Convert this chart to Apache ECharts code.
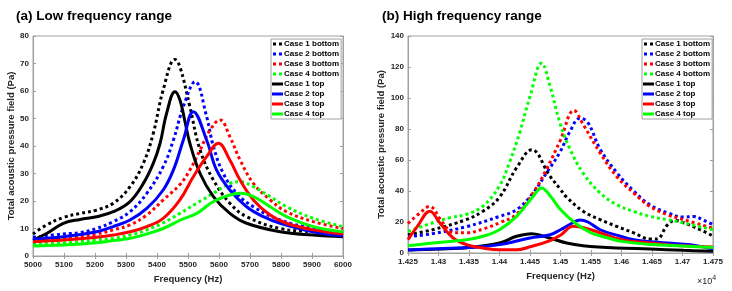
<!DOCTYPE html>
<html>
<head>
<meta charset="utf-8">
<script src="https://cdn.jsdelivr.net/npm/echarts@6/dist/echarts.min.js"></script>
<style>
html, body { margin: 0; padding: 0; background: #fff; }
#main { width: 732px; height: 291px; }
</style>
</head>
<body>
<div id="main"></div>
<script>
// series names (shared by both panels)
var names = ['Case 1 bottom', 'Case 2 bottom', 'Case 3 bottom', 'Case 4 bottom',
	'Case 1 top', 'Case 2 top', 'Case 3 top', 'Case 4 top'];

// (a) low frequency range, [Hz, Pa]
var low1b = [[5000,8],[5044,11.3],[5098,14],[5152,15.5],[5205,16.7],[5259,19.2],[5313,25.2],[5356,33.7],[5388,44.6],[5420,60.4],[5458,71.5],[5474,68.8],[5506,54.3],[5539,38.5],[5582,27.6],[5635,19.2],[5689,14.3],[5797,10],[5904,8.8],[6000,8]];
var low2b = [[5000,6.8],[5098,8],[5152,8.5],[5205,10],[5259,12.5],[5313,16.1],[5367,22.8],[5420,32.5],[5453,42.2],[5485,54.3],[5523,63.4],[5560,50.7],[5582,39.8],[5614,30],[5657,22.8],[5711,17.9],[5797,13.1],[5904,10],[6000,8.5]];
var low3b = [[5000,5.6],[5098,6.4],[5205,8],[5259,9.5],[5313,11.3],[5367,14.9],[5420,20.4],[5474,26],[5506,31.3],[5539,38.5],[5571,45.8],[5603,49.5],[5635,43.4],[5668,34.9],[5711,26.4],[5765,20.4],[5818,16.1],[5904,12.5],[6000,10]];
var low4b = [[5000,4.4],[5098,4.8],[5205,5.8],[5259,6.4],[5313,7.6],[5367,9.5],[5420,12.1],[5474,15.5],[5528,19.2],[5582,22.8],[5635,26.4],[5668,27],[5711,25.2],[5765,21.6],[5818,17.9],[5904,13.7],[6000,10.7]];
var low1t = [[5000,5.8],[5044,8.2],[5098,11.9],[5152,13.3],[5205,14.3],[5259,16.1],[5313,19.8],[5356,26.4],[5388,33.7],[5410,41],[5431,51.9],[5458,59.7],[5474,56.7],[5490,49],[5506,41],[5539,30],[5582,21.6],[5635,15.5],[5689,11.9],[5797,8.8],[5904,7.6],[6000,7]];
var low2t = [[5000,6.1],[5098,7],[5205,8.8],[5259,10.7],[5313,13.1],[5367,17.3],[5420,24],[5453,31.3],[5485,42.2],[5517,52.5],[5560,42.2],[5592,31.3],[5635,24],[5689,17.9],[5743,14.3],[5797,11.9],[5904,8.8],[6000,7.3]];
var low3t = [[5000,5.2],[5098,5.8],[5205,6.8],[5259,7.6],[5313,8.8],[5367,10.7],[5420,13.7],[5474,20.4],[5517,28.8],[5560,36.1],[5598,41],[5635,34.9],[5668,27.6],[5711,20.4],[5765,14.9],[5818,11.9],[5904,9.5],[6000,8]];
var low4t = [[5000,3.6],[5098,4],[5205,4.8],[5259,5.6],[5313,6.4],[5367,8],[5420,10],[5474,13],[5528,15.5],[5582,19.8],[5635,22.2],[5668,22.8],[5711,21.6],[5765,17.9],[5818,14.3],[5904,10.7],[6000,8.8]];

// (b) high frequency range, [Hz, Pa]
var high1b = [[14250,11.8],[14290,15],[14345,21.5],[14373,27],[14400,36],[14428,55],[14453,66.6],[14482,50],[14500,41],[14510,36],[14537,27],[14565,21.5],[14592,17.2],[14620,13],[14647,9],[14658,9],[14675,18],[14688,21],[14702,19.5],[14729,15],[14750,11]];
var high2b = [[14250,10.5],[14290,12.5],[14346,17],[14400,23.6],[14428,28],[14455,38.7],[14477,51.6],[14499,65],[14515,78],[14532,87],[14545,84],[14565,67],[14592,52],[14620,40],[14647,31],[14675,26],[14702,23.2],[14718,23.6],[14735,21],[14750,18.3]];
var high3b = [[14250,19],[14270,26],[14285,30],[14307,19.5],[14325,13],[14346,13],[14373,15.5],[14400,19.5],[14428,25],[14455,38.7],[14477,54],[14500,73],[14522,92],[14537,83],[14565,64.5],[14592,49.4],[14620,38.7],[14647,30],[14675,24.7],[14702,21.5],[14750,16]];
var high4b = [[14250,14],[14291,19.5],[14319,22.8],[14346,25],[14373,30.3],[14400,43.3],[14416,58],[14433,77.6],[14450,101],[14469,122.5],[14483,107.5],[14499,84],[14516,66.6],[14537,51.6],[14565,38.7],[14592,31.2],[14620,26.8],[14647,23.6],[14675,21.5],[14702,19.4],[14750,15]];
var high1t = [[14250,2],[14300,2.5],[14350,3.5],[14400,6.4],[14428,10.8],[14453,12.5],[14482,9.7],[14510,6.4],[14537,4.7],[14592,3.2],[14647,2.6],[14702,1.7],[14750,1.1]];
var high2t = [[14250,2],[14300,2.8],[14350,3.5],[14400,5.4],[14450,9.7],[14483,11.8],[14500,15],[14520,19.5],[14532,21.3],[14545,20],[14565,15],[14592,11.5],[14620,8.6],[14675,6.4],[14713,5.4],[14750,2.5]];
var high3t = [[14250,8.6],[14265,17],[14286,27],[14302,19.5],[14324,9.7],[14346,5.4],[14373,3.2],[14400,2.1],[14428,2.1],[14450,4],[14483,8],[14500,11.5],[14521,17.2],[14550,15],[14600,8.6],[14650,6.4],[14700,4.7],[14750,3.9]];
var high4t = [[14250,4.7],[14291,6.5],[14346,8.6],[14373,10.8],[14400,15],[14428,23.6],[14455,36.5],[14469,42],[14483,37],[14500,28],[14525,19],[14550,13],[14575,10],[14600,7.5],[14650,5.5],[14700,4.5],[14750,3.5]];

var lowData = [low1b, low2b, low3b, low4b, low1t, low2t, low3t, low4t];
var highData = [high1b, high2b, high3b, high4b, high1t, high2t, high3t, high4t];
var colors = ['#000000', '#0000ff', '#ff0000', '#00ff00', '#000000', '#0000ff', '#ff0000', '#00ff00'];

var FONT = 'Liberation Sans, Arial, sans-serif';
var axisGrey = '#a0a0a0';

function mkX(grid, min, max, step, top, gap, fmt) {
	return {
		type: 'value', gridIndex: grid, min: min, max: max, interval: step,
		position: top ? 'top' : 'bottom',
		name: top ? '' : 'Frequency (Hz)',
		nameLocation: 'middle', nameGap: gap,
		nameTextStyle: { color: '#262626', fontFamily: FONT, fontWeight: 'bold', fontSize: 9.5 },
		axisLine: { show: true, lineStyle: { color: axisGrey, width: 1 } },
		axisTick: { show: true, inside: true, length: 3, lineStyle: { color: axisGrey } },
		axisLabel: {
			show: !top, margin: 5, color: '#262626', fontFamily: FONT, fontWeight: 'bold', fontSize: 8,
			formatter: fmt || function(v) { return String(v); }, showMinLabel: true, showMaxLabel: true
		},
		splitLine: { show: false }
	};
}

function mkY(grid, max, step, right, gap) {
	return {
		type: 'value', gridIndex: grid, min: 0, max: max, interval: step,
		position: right ? 'right' : 'left',
		name: right ? '' : 'Total acoustic pressure field (Pa)',
		nameLocation: 'middle', nameGap: gap,
		nameTextStyle: { color: '#262626', fontFamily: FONT, fontWeight: 'bold', fontSize: 9.5 },
		axisLine: { show: true, lineStyle: { color: axisGrey, width: 1 } },
		axisTick: { show: true, inside: true, length: 3, lineStyle: { color: axisGrey } },
		axisLabel: { show: !right, margin: 4, color: '#262626', fontFamily: FONT, fontWeight: 'bold', fontSize: 8 },
		splitLine: { show: false }
	};
}

var series = [];
function addSeries(list, xi, yi) {
	for (var i = 0; i < list.length; i++) {
		series.push({
			type: 'line',
			name: names[i],
			xAxisIndex: xi,
			yAxisIndex: yi,
			data: list[i],
			showSymbol: false,
			symbol: 'none',
			smooth: 0.4,
			silent: true,
			color: colors[i],
			lineStyle: {
				color: colors[i],
				width: 3,
				type: i < 4 ? [3, 3] : 'solid',
				cap: 'butt'
			}
		});
	}
}
addSeries(lowData, 0, 0);
addSeries(highData, 2, 2);

var hzFmt = function(v) { return String(+(v / 10000).toFixed(4)); };

// legend icons: two square dots for the dotted lines, a bar for the solid ones
var dotIcon = 'path://M0,0h3v3h-3z M6,0h3v3h-3z';
var barIcon = 'path://M0,0h11v3h-11z';

function mkLegend(left) {
	var items = [];
	for (var i = 0; i < names.length; i++) {
		items.push({ name: names[i], icon: i < 4 ? dotIcon : barIcon });
	}
	return {
		orient: 'vertical', left: left, top: 39,
		data: items,
		backgroundColor: '#fff',
		borderColor: axisGrey, borderWidth: 1,
		padding: [0, 2, 0, 1],
		itemGap: 0, itemWidth: 11, itemHeight: 3,
		selectedMode: false,
		textStyle: { color: '#000', fontFamily: FONT, fontWeight: 'bold', fontSize: 8, lineHeight: 10, padding: [0, 0, 0, -4] }
	};
}

var option = {
	animation: false,
	backgroundColor: '#fff',
	title: [{
		text: '(a) Low frequency range', left: 11, top: 4,
		textStyle: { color: '#000', fontFamily: FONT, fontWeight: 'bold', fontSize: 13.5 }
	}, {
		text: '(b) High frequency range', left: 377, top: 4,
		textStyle: { color: '#000', fontFamily: FONT, fontWeight: 'bold', fontSize: 13.5 }
	}, {
		text: '×10{s|4}', left: 692, top: 270,
		textStyle: {
			color: '#262626', fontFamily: FONT, fontWeight: 'normal', fontSize: 9,
			rich: { s: { fontSize: 7, verticalAlign: 'top', padding: [0, 0, 6, 0], color: '#262626', fontFamily: FONT } }
		}
	}],
	legend: [mkLegend(271), mkLegend(642)],
	grid: [
		{ left: 33, right: 389, top: 36, bottom: 35, show: true, borderColor: axisGrey, borderWidth: 1, backgroundColor: '#fff' },
		{ left: 408, right: 19, top: 36, bottom: 38, show: true, borderColor: axisGrey, borderWidth: 1, backgroundColor: '#fff' }
	],
	xAxis: [
		mkX(0, 5000, 6000, 100, false, 13),
		mkX(0, 5000, 6000, 100, true, 0),
		mkX(1, 14250, 14750, 50, false, 14, hzFmt),
		mkX(1, 14250, 14750, 50, true, 0)
	],
	yAxis: [
		mkY(0, 80, 10, false, 11),
		mkY(0, 80, 10, true, 0),
		mkY(1, 140, 20, false, 15),
		mkY(1, 140, 20, true, 0)
	],
	series: series
};

var chart = echarts.init(document.getElementById('main'), null, { renderer: 'canvas' });
chart.setOption(option);
</script>
</body>
</html>
